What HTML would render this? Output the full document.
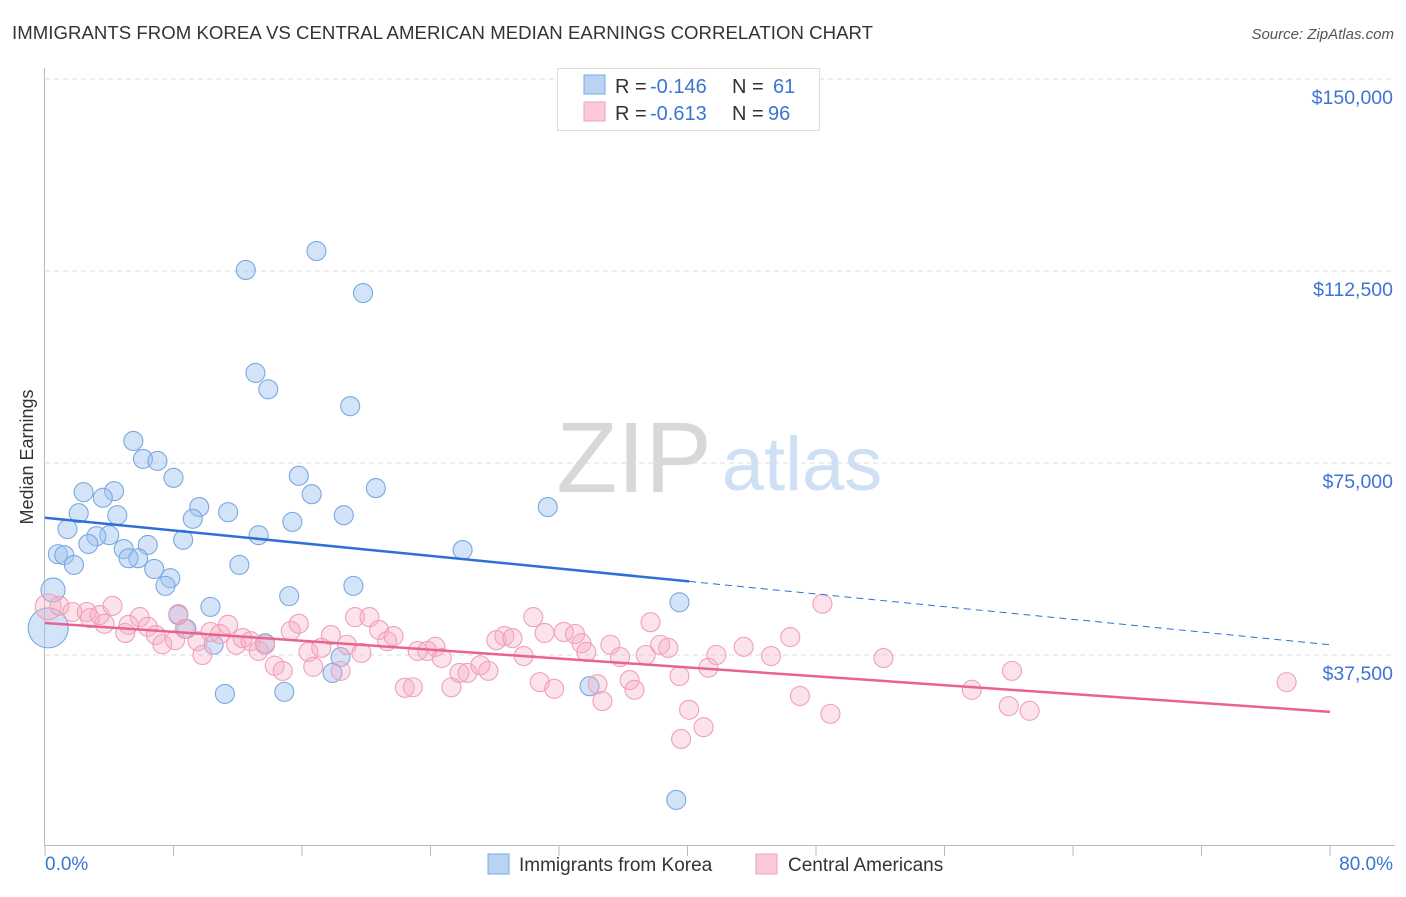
<!DOCTYPE html>
<html><head><meta charset="utf-8"><style>
body{margin:0;background:#fff;font-family:"Liberation Sans",sans-serif;}
svg text{font-family:"Liberation Sans",sans-serif;}
</style></head><body>
<svg id="chart" width="1406" height="892" viewBox="0 0 1406 892" xmlns="http://www.w3.org/2000/svg">
<text x="12" y="39" font-size="18.6" fill="#333" textLength="861">IMMIGRANTS FROM KOREA VS CENTRAL AMERICAN MEDIAN EARNINGS CORRELATION CHART</text>
<text x="1394" y="39" font-size="15" fill="#555" text-anchor="end" font-style="italic">Source: ZipAtlas.com</text>
<text transform="translate(33,457) rotate(-90)" font-size="18" fill="#333" text-anchor="middle">Median Earnings</text>
<g id="grid"></g>
<g id="watermark">
<text x="634" y="492" font-size="100" fill="#d8d8d8" text-anchor="middle" font-family="Liberation Serif">ZIP</text>
<text x="802" y="490" font-size="76" fill="#cfe0f5" text-anchor="middle">atlas</text>
</g>
<g id="axes"></g>
<g id="blue"></g>
<g id="pink"></g>
<g id="trends"></g>
<g>
<rect x="557.5" y="68.5" width="262" height="62" fill="#fff" stroke="#ddd"/>
<rect x="584" y="75" width="21" height="19" fill="#b9d3f5" stroke="#7aa8e0"/>
<rect x="584" y="102" width="21" height="19" fill="#fbc9d8" stroke="#f0a0b8"/>
<text x="615" y="93" font-size="20" fill="#333">R =</text>
<text x="650" y="93" font-size="20" fill="#3b75d1">-0.146</text>
<text x="732" y="93" font-size="20" fill="#333">N =</text>
<text x="773" y="93" font-size="20" fill="#3b75d1">61</text>
<text x="615" y="120" font-size="20" fill="#333">R =</text>
<text x="650" y="120" font-size="20" fill="#3b75d1">-0.613</text>
<text x="732" y="120" font-size="20" fill="#333">N =</text>
<text x="768" y="120" font-size="20" fill="#3b75d1">96</text>
</g>
<g>
<rect x="488" y="854" width="21" height="20" fill="#b9d3f5" stroke="#7aa8e0"/>
<text x="519" y="871" font-size="19" fill="#333">Immigrants from Korea</text>
<rect x="756" y="854" width="21" height="20" fill="#fbc9d8" stroke="#f0a0b8"/>
<text x="788" y="871" font-size="19" fill="#333">Central Americans</text>
</g>
</svg>
<script>
const yTicks=[37500,75000,112500,150000];
const yTickLabels=["$37,500","$75,000","$112,500","$150,000"];
const xEndLabels=["0.0%","80.0%"];
const blueX=[16.9,12.5,19.8,13.1,13.9,19.0,5.5,6.1,7.0,8.0,2.4,4.3,3.6,9.6,11.4,2.1,4.5,9.2,16.6,15.8,20.6,18.6,15.4,31.3,1.4,13.3,4.0,3.2,6.4,2.7,8.6,4.9,26.0,0.8,1.2,1.8,5.8,5.2,12.1,6.8,7.8,7.5,19.2,0.5,15.2,10.3,39.5,8.3,8.8,13.7,10.5,18.4,17.9,11.2,14.9,33.9,39.3,0.2];
const blueY=[116400,112700,108200,92600,89400,86100,79300,75800,75400,72100,69300,69500,68200,66400,65400,65200,64800,64100,68900,72500,70100,64800,63500,66400,62100,60900,60900,60700,59000,59200,60000,58200,58000,57200,57000,55100,56400,56400,55100,54300,52500,51000,51000,50200,49000,46900,47800,45300,42600,39800,39500,37100,34000,29900,30300,31400,9200,42800];
const pinkX=[0.2,0.9,1.7,2.6,3.4,4.2,2.8,5.2,3.7,5.9,6.4,5.0,6.9,7.3,8.3,8.7,8.1,9.5,9.8,10.3,11.4,10.9,11.9,12.3,12.8,13.3,13.7,14.3,14.8,15.3,15.8,16.4,16.7,17.2,17.8,18.4,18.8,19.3,19.7,20.2,20.8,21.3,21.7,22.4,22.9,23.2,23.8,24.3,24.7,25.3,25.8,26.3,27.1,27.6,28.1,28.6,29.1,29.8,30.4,30.8,31.1,31.7,32.3,33.0,33.4,33.7,34.4,34.7,35.2,35.8,36.4,36.7,37.7,37.4,38.3,38.8,39.5,40.1,39.6,41.0,41.3,41.8,43.5,45.2,46.4,47.0,48.4,48.9,52.2,57.7,60.2,60.0,61.3,77.3];
const pinkY=[46900,47100,45900,45900,45300,47100,44700,43400,43600,44900,43000,41800,41400,39600,45500,42600,40400,40200,37500,42000,43400,41600,39500,40800,40200,38300,39500,35400,34400,42200,43600,38100,35200,38900,41400,34400,39500,44900,37900,44900,42400,40200,41200,31100,31200,38300,38300,39100,36900,31200,34000,34000,35500,34400,40400,41200,40800,37300,44900,32200,41800,30900,42000,41600,39800,38100,31800,28500,39500,37100,32600,30700,43900,37500,39500,38900,33400,26800,21100,23400,35000,37500,39100,37300,41000,29500,47500,26000,36900,30700,34400,27500,26600,32200];
const blueTrend=[64300,39500];
const pinkTrend=[43750,26400];
const NS="http://www.w3.org/2000/svg";
const X0=45,X1=1330,YB=847;
const xs=p=>X0+(p/80)*(X1-X0);
const ys=v=>YB-v/37500*192;
function mk(t,a,parent){const e=document.createElementNS(NS,t);for(const k in a)e.setAttribute(k,a[k]);document.getElementById(parent).appendChild(e);return e;}
yTicks.forEach((v,i)=>{
 const l=mk('line',{x1:45,x2:1395,y1:ys(v),y2:ys(v),stroke:'#ddd','stroke-dasharray':'5,4'},'grid');
 
 
 const t=mk('text',{x:1393,y:ys(v)+25,'font-size':19.5,fill:'#3b75d1','text-anchor':'end'},'grid');
 t.textContent=yTickLabels[i];
 
 
});
let a=mk('line',{x1:44.5,x2:44.5,y1:68,y2:846,stroke:'#bbb'},'axes');


a=mk('line',{x1:44,x2:1395,y1:845.5,y2:845.5,stroke:'#bbb'},'axes');


for(let p=0;p<=80;p+=8){
 const t=mk('line',{x1:xs(p),x2:xs(p),y1:845,y2:856,stroke:'#bbb'},'axes');
 
 
}
[[0,'start',45],[80,'end',1393]].forEach((d,i)=>{
 const t=mk('text',{x:d[2],y:870,'font-size':19,fill:'#3b75d1','text-anchor':d[1]},'axes');
 t.textContent=xEndLabels[i];
 
 
});
blueX.forEach((x,i)=>{
 const r=i===blueX.length-1?20:(i===43?12:9.5);
 const c=mk('circle',{cx:xs(x),cy:ys(blueY[i]),r:r,fill:'rgba(160,196,240,0.45)',stroke:'#7aa8e0','stroke-width':1.1},'blue');
 
 
});
pinkX.forEach((x,i)=>{
 const r=i===0?13:9.5;
 const c=mk('circle',{cx:xs(x),cy:ys(pinkY[i]),r:r,fill:'rgba(246,172,196,0.35)',stroke:'#f0a0b8','stroke-width':1.1},'pink');
 
 
});
const bx=40.1;
const bm=blueTrend[0]+(blueTrend[1]-blueTrend[0])*bx/80;
let t=mk('line',{x1:xs(0),y1:ys(blueTrend[0]),x2:xs(bx),y2:ys(bm),stroke:'#2f6fd6','stroke-width':2.5},'trends');


t=mk('line',{x1:xs(bx),y1:ys(bm),x2:xs(80),y2:ys(blueTrend[1]),stroke:'#2f6fd6','stroke-width':1,'stroke-dasharray':'7,5'},'trends');


t=mk('line',{x1:xs(0),y1:ys(pinkTrend[0]),x2:xs(80),y2:ys(pinkTrend[1]),stroke:'#e8648f','stroke-width':2.5},'trends');


</script>
</body></html>
